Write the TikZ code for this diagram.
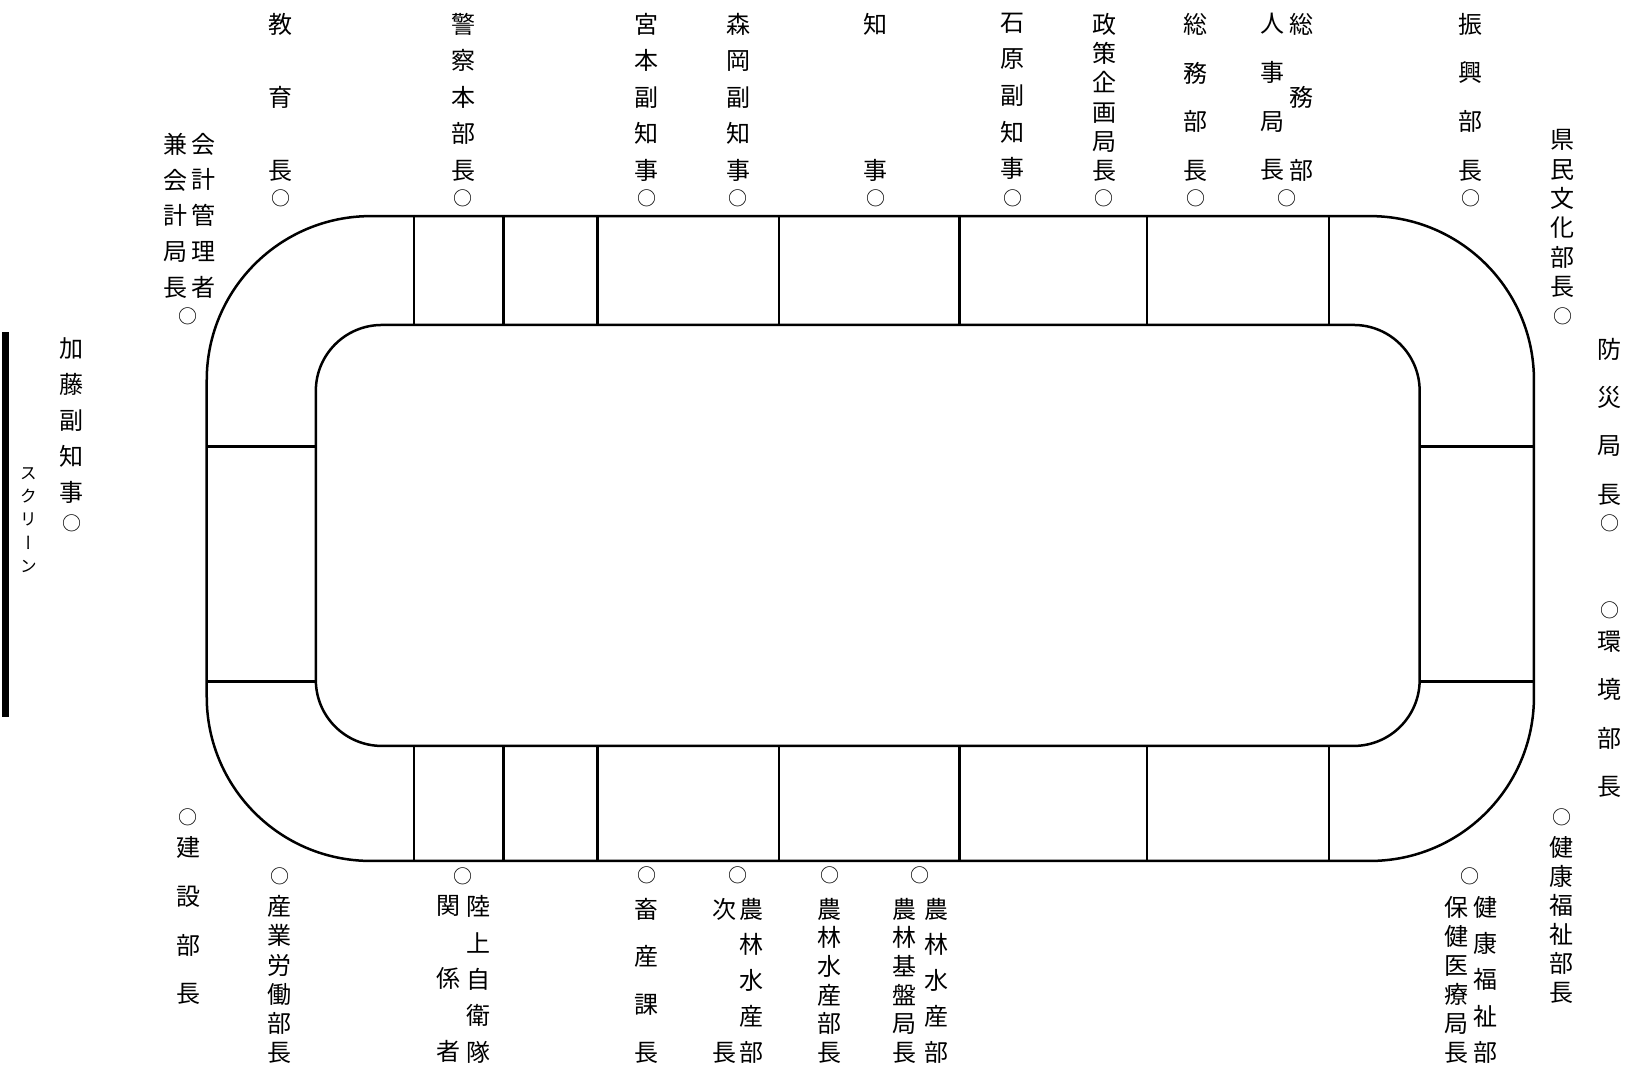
\documentclass[tikz,border=0pt]{standalone}
\usepackage{fontspec}
\newfontfamily\jpfont{Noto Sans CJK JP}
\newfontfamily\jpvfont[RawFeature=+vert]{Noto Sans CJK JP}
\tikzset{
  table/.style={line width=1.25pt},
  vcol/.style={font=\jpfont\fontsize{12pt}{#1}\selectfont, align=center, inner sep=0pt, anchor=north},
  seat/.style={font=\jpfont\fontsize{9.5pt}{9.5pt}\selectfont, inner sep=0pt},
}
\begin{document}
\begin{tikzpicture}[x=0.5194pt, y=-0.5194pt]
  \useasboundingbox (0,0) rectangle (1568,1032);
  % table
  \draw[table, rounded corners=82pt] (199,208) rectangle (1476.5,828.7);
  \draw[table, rounded corners=33pt] (304,312.8) rectangle (1366.5,718);
  \foreach \x in {398.5,484.6,575.1,749.8,923.6,1104,1279.3}{
    \draw[table] (\x,208) -- (\x,312.8);
    \draw[table] (\x,718) -- (\x,828.7);
  }
  \foreach \y in {430,656}{
    \draw[table] (199,\y) -- (304,\y);
    \draw[table] (1366.5,\y) -- (1476.5,\y);
  }
  % screen
  \draw[line width=3.3pt] (5.5,320) -- (5.5,690);
  \node[vcol=11.65pt, font=\jpvfont\fontsize{8.5pt}{11.65pt}\selectfont] (screen) at (27.3,449.6) {ス\\ク\\リ\\ー\\ン};
  % seats
  \foreach \n/\x/\y in {kaikei/181.3/304.8, kyoiku/270.2/191, keisatsu/446/191, miyamoto/622.5/191,
      morioka/710.7/191, chiji/842.9/191, ishihara/974.7/191, seisaku/1062.7/191, somu/1151/191,
      jinji/1239.2/191, shinko/1415.5/191, kenmin/1504/304.8, bosai/1549.3/503.7, kankyo/1549.3/587.2,
      kato/69/503.7, kenko/1503.2/786.7, hoken/1415/843.8, kensetsu/181.3/786.7, sangyo/269.5/843.2,
      jieitai/446/843.2, chikusan/622.4/842.5, jicho/710.7/842.5, norin/798.9/842.5, kiban/885.6/842.5}
    \node[seat] (\n-s) at (\x,\y) {○};
  % top row
  \node[vcol=36.6pt] (kyoiku) at (270.2,12.1) {教\\育\\長};
  \node[vcol=18.3pt] (keisatsu) at (446,12.1) {警\\察\\本\\部\\長};
  \node[vcol=18.3pt] (miyamoto) at (622.5,12.1) {宮\\本\\副\\知\\事};
  \node[vcol=18.3pt] (morioka) at (710.7,12.1) {森\\岡\\副\\知\\事};
  \node[vcol=73.3pt] (chiji) at (842.9,12.1) {知\\事};
  \node[vcol=18.3pt] (ishihara) at (974.7,12.1) {石\\原\\副\\知\\事};
  \node[vcol=14.65pt] (seisaku) at (1062.7,12.1) {政\\策\\企\\画\\局\\長};
  \node[vcol=24.43pt] (somu) at (1151,12.1) {総\\務\\部\\長};
  \node[vcol=36.6pt] (jinji-a) at (1253.2,12.1) {総\\務\\部};
  \node[vcol=24.43pt] (jinji-b) at (1225.3,12.1) {人\\事\\局\\長};
  \node[vcol=24.43pt] (shinko) at (1415.5,12.1) {振\\興\\部\\長};
  \node[vcol=14.67pt] (kenmin) at (1504,124.4) {県\\民\\文\\化\\部\\長};
  \node[vcol=17.9pt] (kaikei-a) at (195.7,127.6) {会\\計\\管\\理\\者};
  \node[vcol=17.9pt] (kaikei-b) at (168.5,127.6) {兼\\会\\計\\局\\長};
  % sides
  \node[vcol=24.15pt] (bosai) at (1549.3,324.9) {防\\災\\局\\長};
  \node[vcol=24.15pt] (kankyo) at (1549.3,607.2) {環\\境\\部\\長};
  \node[vcol=17.9pt] (kato) at (69,324.9) {加\\藤\\副\\知\\事};
  % bottom row
  \node[vcol=14.5pt] (kenko) at (1503.2,804.6) {健\\康\\福\\祉\\部\\長};
  \node[vcol=18.13pt] (hoken-a) at (1429.4,862.3) {健\\康\\福\\祉\\部};
  \node[vcol=14.5pt] (hoken-b) at (1402.1,862.3) {保\\健\\医\\療\\局\\長};
  \node[vcol=24.43pt] (kensetsu) at (181.3,804.6) {建\\設\\部\\長};
  \node[vcol=14.56pt] (sangyo) at (269.5,861.7) {産\\業\\労\\働\\部\\長};
  \node[vcol=18.2pt] (jieitai-a) at (460.4,861.7) {陸\\上\\自\\衛\\隊};
  \node[vcol=36.4pt] (jieitai-b) at (431.5,861.7) {関\\係\\者};
  \node[vcol=23.9pt] (chikusan) at (622.4,863.9) {畜\\産\\課\\長};
  \node[vcol=17.92pt] (jicho-a) at (723.5,863.9) {農\\林\\水\\産\\部};
  \node[vcol=71.7pt] (jicho-b) at (697.8,863.9) {次\\長};
  \node[vcol=14.34pt] (norin) at (798.9,863.9) {農\\林\\水\\産\\部\\長};
  \node[vcol=17.92pt] (kiban-a) at (901.6,863.9) {農\\林\\水\\産\\部};
  \node[vcol=14.34pt] (kiban-b) at (871.1,863.9) {農\\林\\基\\盤\\局\\長};
\end{tikzpicture}
\end{document}
